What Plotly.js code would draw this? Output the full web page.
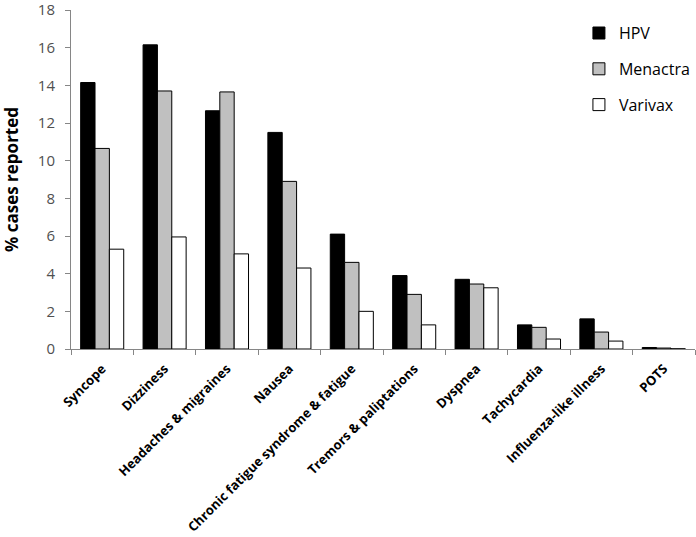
<!DOCTYPE html>
<html>
<head>
<meta charset="utf-8">
<script src="https://cdn.plot.ly/plotly-3.0.1.min.js"></script>
<style>
  html, body { margin: 0; padding: 0; background: #fff; }
  #grafico { width: 696px; height: 537px; }
</style>
</head>
<body>
<div id="grafico"></div>
<script>
// datos
const categorias = ['Syncope', 'Dizziness', 'Headaches & migraines', 'Nausea',
  'Chronic fatigue syndrome & fatigue', 'Tremors & paliptations', 'Dyspnea',
  'Tachycardia', 'Influenza-like illness', 'POTS'];
const hpv      = [14.15, 16.15, 12.65, 11.5, 6.1, 3.9, 3.7, 1.28, 1.6, 0.08];
const menactra = [10.65, 13.7, 13.65, 8.9, 4.6, 2.9, 3.45, 1.15, 0.9, 0.05];
const varivax  = [5.3, 5.95, 5.05, 4.3, 2.0, 1.28, 3.25, 0.53, 0.42, 0.01];

const graficoDiv = document.getElementById('grafico');

const barra = (name, y, color, grupo) => ({
  type: 'bar', name, x: categorias, y, legendgroup: grupo,
  marker: { color, line: { color: '#000', width: 1 } }
});

const trazas = [
  barra('HPV', hpv, '#000000', 'a'),
  barra('Menactra', menactra, '#c0c0c0', 'b'),
  barra('Varivax', varivax, '#ffffff', 'c')
];

const layout = {
  width: 696, height: 537,
  margin: { l: 71, r: 1, t: 10, b: 188 },
  paper_bgcolor: '#fff', plot_bgcolor: '#fff',
  font: { family: 'Open Sans, Liberation Sans, sans-serif', color: '#000' },
  barmode: 'group', bargap: 0.31, bargroupgap: 0,
  showlegend: true,
  legend: { x: 0.814, y: 0.982, xanchor: 'left', yanchor: 'top', font: { size: 16, color: '#000' },
            traceorder: 'grouped', tracegroupgap: 12, bgcolor: 'rgba(0,0,0,0)' },
  xaxis: {
    type: 'category', tickangle: -45, tickson: 'boundaries', ticks: 'outside', ticklen: 5,
    tickcolor: '#868686', showline: true, linecolor: '#868686', linewidth: 1,
    ticklabelstandoff: 6,
    tickfont: { size: 13, color: '#000', family: 'Open Sans, sans-serif', weight: 'bold' },
    showgrid: false, zeroline: false
  },
  yaxis: {
    range: [0, 18], dtick: 2, ticks: 'outside', ticklen: 5, tickcolor: '#868686',
    showline: true, linecolor: '#868686', linewidth: 1, showgrid: false, zeroline: false,
    ticklabeloverflow: 'allow', ticklabelstandoff: 7,
    tickfont: { size: 15, color: '#505050' },
    title: { text: '% cases reported', font: { size: 17, color: '#000', weight: 'bold' }, standoff: 14 }
  }
};

Plotly.newPlot(graficoDiv, trazas, layout, { displayModeBar: false, staticPlot: true });
</script>
</body>
</html>
